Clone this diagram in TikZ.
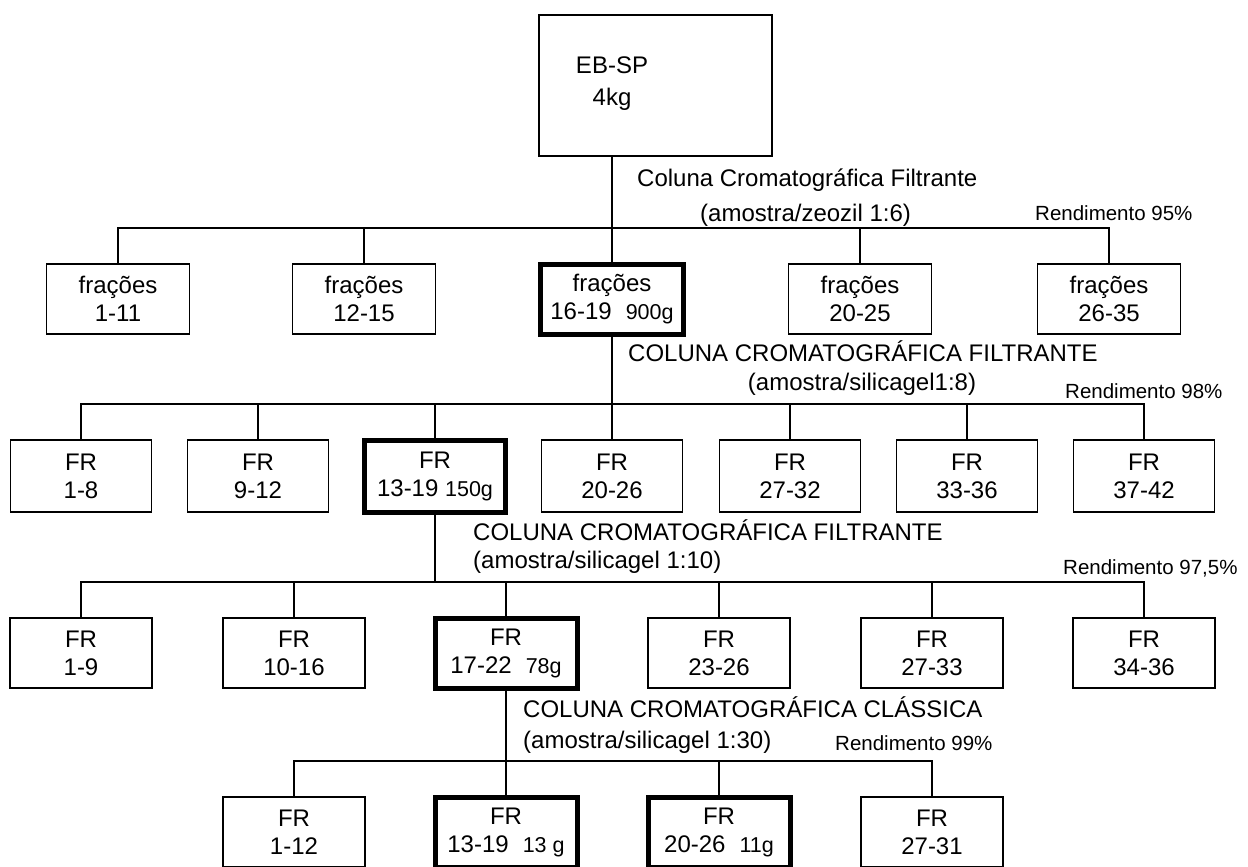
\documentclass[tikz,border=0pt]{standalone}
\usepackage{fontspec}
\setmainfont{Liberation Sans}
\begin{document}
\begin{tikzpicture}[x=1pt,y=-1pt,
  txt/.style={font=\fontsize{24}{28}\selectfont},
  box/.style={draw, line width=1.6pt, inner sep=0pt, align=center,
    minimum width=142pt, minimum height=70pt, txt},
  hibox/.style={box, line width=5pt},
  lbl/.style={inner sep=0pt, anchor=base west, txt},
  rend/.style={inner sep=0pt, anchor=base west, font=\fontsize{20.5}{24}\selectfont},
  conn/.style={line width=1.6pt}]
\newcommand{\mass}[1]{{\fontsize{21.5}{28}\selectfont #1}}
\useasboundingbox (0,0) rectangle (1248,867);

% top
\node[draw, line width=1.6pt, minimum width=233pt, minimum height=141pt, inner sep=0pt] (top) at (655.5,85.5) {};
\node[inner sep=0pt, align=center, font=\fontsize{24}{32}\selectfont] (toptxt) at (612,84) {EB-SP\\4kg};

% level 1
\node[box, minimum width=143pt] (a1) at (118,299) {frações\\1-11};
\node[box, minimum width=143pt] (a2) at (364,299) {frações\\12-15};
\node[hibox, minimum width=143pt] (a3) at (612,299) {frações\\16-19\hspace{14pt}\mass{900g}};
\node[box, minimum width=143pt] (a4) at (860,299) {frações\\20-25};
\node[box, minimum width=143pt] (a5) at (1109,299) {frações\\26-35};
\coordinate (b1) at (612,228);
\draw[conn] (top.south -| a3.north) -- (a3.north);
\draw[conn] (a1.north) |- (b1) -| (a5.north);
\draw[conn] (a2.north) -- (a2.north |- b1);
\draw[conn] (a4.north) -- (a4.north |- b1);
\node[lbl] (l1a) at (637,186.5) {Coluna Cromatográfica Filtrante};
\node[lbl] (l1b) at (700,221.5) {(amostra/zeozil 1:6)};
\node[rend] (r1) at (1035,220.5) {Rendimento 95\%};

% level 2
\node[box, minimum width=141pt, minimum height=72pt] (b2n1) at (81,476) {FR\\1-8};
\node[box, minimum width=141pt, minimum height=72pt] (b2n2) at (258,476) {FR\\9-12};
\node[hibox, minimum width=141pt, minimum height=72pt] (b2n3) at (435,476) {FR\\13-19 \mass{150g}};
\node[box, minimum width=141pt, minimum height=72pt] (b2n4) at (612,476) {FR\\20-26};
\node[box, minimum width=141pt, minimum height=72pt] (b2n5) at (790,476) {FR\\27-32};
\node[box, minimum width=141pt, minimum height=72pt] (b2n6) at (967,476) {FR\\33-36};
\node[box, minimum width=141pt, minimum height=72pt] (b2n7) at (1144,476) {FR\\37-42};
\coordinate (b2) at (612,404);
\draw[conn] (a3.south) -- (b2n4.north);
\draw[conn] (b2n1.north) |- (b2) -| (b2n7.north);
\foreach \n in {2,3,5,6} \draw[conn] (b2n\n.north) -- (b2n\n.north |- b2);
\node[lbl] (l2a) at (628,361.5) {COLUNA CROMATOGRÁFICA FILTRANTE};
\node[lbl, anchor=base] (l2b) at (862,390.5) {(amostra/silicagel1:8)};
\node[rend] (r2) at (1065,398.5) {Rendimento 98\%};

% level 3
\node[box] (c1) at (81,653) {FR\\1-9};
\node[box] (c2) at (294,653) {FR\\10-16};
\node[hibox] (c3) at (506,653) {FR\\17-22\hspace{14pt}\mass{78g}};
\node[box] (c4) at (719,653) {FR\\23-26};
\node[box] (c5) at (932,653) {FR\\27-33};
\node[box] (c6) at (1144,653) {FR\\34-36};
\coordinate (b3) at (435,582);
\draw[conn] (b2n3.south) -- (b3);
\draw[conn] (c1.north) |- (b3) -| (c6.north);
\foreach \n in {2,3,4,5} \draw[conn] (c\n.north) -- (c\n.north |- b3);
\node[lbl] (l3a) at (473,540.5) {COLUNA CROMATOGRÁFICA FILTRANTE};
\node[lbl] (l3b) at (473,568.5) {(amostra/silicagel 1:10)};
\node[rend] (r3) at (1063,574.5) {Rendimento 97,5\%};

% level 4
\node[box] (d1) at (294,832) {FR\\1-12};
\node[hibox] (d2) at (506,832) {FR\\13-19\hspace{14pt}\mass{13 g}};
\node[hibox] (d3) at (719,832) {FR\\20-26\hspace{14pt}\mass{11g}};
\node[box] (d4) at (932,832) {FR\\27-31};
\coordinate (b4) at (506,761);
\draw[conn] (c3.south) -- (d2.north);
\draw[conn] (d1.north) |- (b4) -| (d4.north);
\draw[conn] (d3.north) -- (d3.north |- b4);
\node[lbl] (l4a) at (523,717.5) {COLUNA CROMATOGRÁFICA CLÁSSICA};
\node[lbl] (l4b) at (523,748.5) {(amostra/silicagel 1:30)};
\node[rend] (r4) at (835,750.5) {Rendimento 99\%};
\end{tikzpicture}
\end{document}
